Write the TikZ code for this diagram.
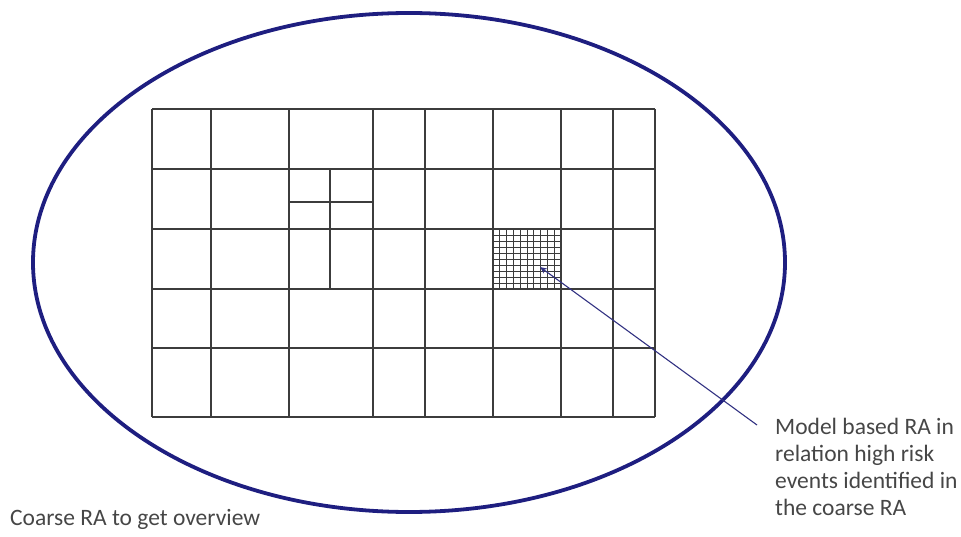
\documentclass[tikz,border=0pt]{standalone}
\usepackage{fontspec}
\setmainfont{Carlito}
\usetikzlibrary{arrows.meta}

\definecolor{rimblue}{RGB}{30,30,128}
\definecolor{pointerblue}{RGB}{50,50,130}
\definecolor{gridgray}{RGB}{60,60,60}
\definecolor{notegray}{RGB}{70,70,70}

\begin{document}
\begin{tikzpicture}[x=1pt, y=-1pt, >=Stealth,
      rim/.style={draw=rimblue, line width=3.8pt},
      coarse/.style={draw=gridgray, line width=1.3pt},
      fine/.style={draw=gridgray, line width=0.9pt},
      pointer/.style={draw=pointerblue, line width=1.1pt, -{Stealth[length=7pt,width=6pt]}},
      note/.style={font=\fontsize{23.5}{27}\selectfont, text=notegray,
                   align=left, inner sep=0pt}]

    \useasboundingbox (0,0) rectangle (961,537);

    \def\gl{152}   % left edge of the coarse grid
    \def\gr{655}   % right edge
    \def\gt{109}   % top edge
    \def\gb{417}   % bottom edge

    % Outer ellipse
    \draw[rim] (409,262.5) ellipse [x radius=376pt, y radius=249.5pt];

    % Coarse grid
    \foreach \x in {152,211,289,373,425,493,561,613,655}
      \draw[coarse] (\x,\gt) -- (\x,\gb);
    \foreach \y in {109,169,229,289,348,417}
      \draw[coarse] (\gl,\y) -- (\gr,\y);

    % Partly refined cells (third column)
    \draw[coarse] (330,169) -- (330,289);
    \draw[coarse] (289,202) -- (373,202);

    % Fine cell: 10 x 10 sub-grid
    \coordinate (fnw) at (493,229);
    \coordinate (fse) at (561,289);
    \foreach \i in {1,...,9} {
      \draw[fine] (493+6.8*\i,229) -- (493+6.8*\i,289);
      \draw[fine] (493,229+6*\i) -- (561,229+6*\i);
    }

    % Labels
    \node[note, anchor=north west] (model) at (775,418)
      {Model based RA in\\relation high risk\\events identified in\\the coarse RA};
    \node[note, anchor=north west] (coarse) at (10,509) {Coarse RA to get overview};

    % Pointer into the fine cell
    \coordinate (tail) at (757,425);
    \coordinate (tip) at (540,267);
    \draw[pointer] (tail) -- (tip);

\end{tikzpicture}
\end{document}
